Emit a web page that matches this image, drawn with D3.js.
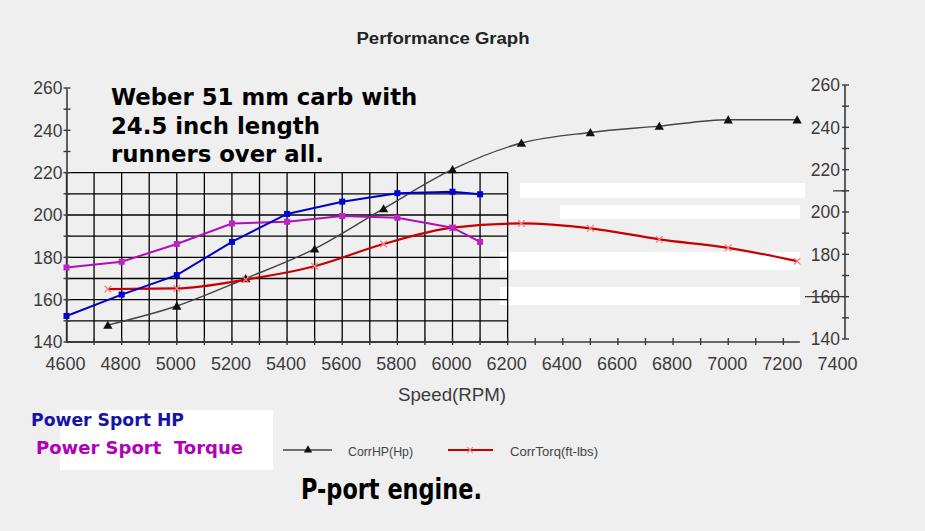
<!DOCTYPE html>
<html><head><meta charset="utf-8">
<script src="https://cdn.jsdelivr.net/npm/d3@7"></script>
<style>
html,body{margin:0;padding:0;background:#efefef;}
svg{display:block;}
</style></head>
<body>
<svg id="chart" width="925" height="531"></svg>
<script>
// ---- data ----
const rpmDyno = [4750, 5000, 5250, 5500, 5750, 6000, 6250, 6500, 6750, 7000, 7250];
const corrHP = [148, 157, 170, 184, 203, 221.5, 234, 239, 242, 245, 245];
const corrTorq = [165, 165.3, 169.5, 175.8, 186.3, 194, 196, 193.7, 188.5, 184.5, 178.2];
const rpmPS = [4600, 4800, 5000, 5200, 5400, 5600, 5800, 6000, 6100];
const psHP = [152.3, 162.4, 171.6, 187.3, 200.5, 206.3, 210.3, 211, 209.8];
const psTorque = [175.2, 177.9, 186.3, 196, 196.8, 199.5, 198.7, 194, 187.3];
const xTicks = [4600, 4800, 5000, 5200, 5400, 5600, 5800, 6000, 6200, 6400, 6600, 6800, 7000, 7200, 7400];
const yTicks = [140, 160, 180, 200, 220, 240, 260];
const titleText = "Performance Graph";
const xTitle = "Speed(RPM)";
const noteLines = ["Weber 51 mm carb with", "24.5 inch length", "runners over all."];
const engineText = "P-port engine.";
const legendPS = ["Power Sport HP", "Power Sport  Torque"];
const legendDyno = ["CorrHP(Hp)", "CorrTorq(ft-lbs)"];

// ---- setup ----
const svg = d3.select("#chart");
const x = d3.scaleLinear().domain([4600, 7400]).range([66.5, 838.5]);
const y = d3.scaleLinear().domain([140, 260]).range([342, 88]);
const yR = d3.scaleLinear().domain([140, 260]).range([339, 85]);
const axisCol = "#3a3a3a";
const labelCol = "#3c3c3c";

svg.append("rect").attr("width", 925).attr("height", 531).attr("fill", "#efefef");

// erased white bands (scan artefacts)
const bands = [[520, 183, 285, 15], [560, 205, 240, 14], [500, 252, 300, 18], [500, 287, 300, 18], [60, 410, 213, 60]];
svg.append("g").selectAll("rect").data(bands).join("rect")
  .attr("x", d => d[0]).attr("y", d => d[1]).attr("width", d => d[2]).attr("height", d => d[3])
  .attr("fill", "#ffffff");

// title
svg.append("text").attr("x", 443).attr("y", 44).attr("text-anchor", "middle")
  .attr("font-family", "Liberation Sans, Arial, sans-serif").attr("font-weight", "bold")
  .attr("font-size", 16).attr("fill", "#222").attr("textLength", 173).attr("lengthAdjust", "spacingAndGlyphs")
  .text(titleText);

// ---- black grid overlay ----
const grid = svg.append("g").attr("stroke", "#000").attr("stroke-width", 1.3);
grid.selectAll("line.v").data(d3.range(4600, 6201, 100)).join("line")
  .attr("x1", d => x(d)).attr("x2", d => x(d)).attr("y1", y(220)).attr("y2", y(140));
grid.selectAll("line.h").data(d3.range(140, 221, 10)).join("line")
  .attr("x1", x(4600)).attr("x2", x(6200)).attr("y1", d => y(d)).attr("y2", d => y(d));

// ---- left axis ----
const gL = svg.append("g").attr("transform", `translate(${x(4600)},0)`);
gL.call(d3.axisLeft(y).tickValues(d3.range(140, 261, 10)).tickSize(0).tickFormat(""));
gL.selectAll("path,line").attr("stroke", axisCol).attr("stroke-width", 1.6);
gL.selectAll("line.mt").data(d3.range(140, 261, 10)).join("line")
  .attr("x1", -3).attr("x2", 4).attr("y1", d => y(d)).attr("y2", d => y(d))
  .attr("stroke", axisCol).attr("stroke-width", 1.4);
gL.selectAll("text.yl").data(yTicks).join("text")
  .attr("x", -4).attr("y", d => y(d)).attr("dy", "0.36em").attr("text-anchor", "end")
  .attr("font-family", "Liberation Sans, Arial, sans-serif").attr("font-size", 17.5).attr("fill", labelCol)
  .text(d => d);

// ---- right axis ----
const gR = svg.append("g").attr("transform", "translate(845,0)");
gR.append("line").attr("x1", 0).attr("x2", 0).attr("y1", yR(260)).attr("y2", yR(140))
  .attr("stroke", axisCol).attr("stroke-width", 1.6);
gR.selectAll("line.mt").data(d3.range(140, 261, 10)).join("line")
  .attr("x1", -3).attr("x2", 4).attr("y1", d => yR(d)).attr("y2", d => yR(d))
  .attr("stroke", axisCol).attr("stroke-width", 1.4);
gR.selectAll("text.yl").data(yTicks).join("text")
  .attr("x", -5).attr("y", d => yR(d)).attr("dy", "0.36em").attr("text-anchor", "end")
  .attr("font-family", "Liberation Sans, Arial, sans-serif").attr("font-size", 17.5).attr("fill", labelCol)
  .text(d => d);
// stray long ticks from the scan
gR.append("line").attr("x1", -40).attr("x2", 0).attr("y1", yR(160)).attr("y2", yR(160)).attr("stroke", axisCol).attr("stroke-width", 1.3);
gR.append("line").attr("x1", -12).attr("x2", 0).attr("y1", yR(210)).attr("y2", yR(210)).attr("stroke", axisCol).attr("stroke-width", 1.3);

// ---- bottom axis ----
const gB = svg.append("g").attr("transform", `translate(0,${y(140)})`);
gB.append("line").attr("x1", x(4600)).attr("x2", x(7260)).attr("y1", 0).attr("y2", 0)
  .attr("stroke", axisCol).attr("stroke-width", 1.6);
gB.selectAll("line.t").data(d3.range(4700, 7201, 100)).join("line")
  .attr("x1", d => x(d)).attr("x2", d => x(d)).attr("y1", -4).attr("y2", 3)
  .attr("stroke", axisCol).attr("stroke-width", 1.4);
gB.selectAll("text.xl").data(xTicks).join("text")
  .attr("x", d => x(d) - 1).attr("y", 28).attr("text-anchor", "middle")
  .attr("font-family", "Liberation Sans, Arial, sans-serif").attr("font-size", 18).attr("fill", labelCol)
  .text(d => d);

svg.append("text").attr("x", 452).attr("y", 401).attr("text-anchor", "middle")
  .attr("font-family", "Liberation Sans, Arial, sans-serif").attr("font-size", 18).attr("fill", labelCol)
  .attr("textLength", 108).attr("lengthAdjust", "spacingAndGlyphs")
  .text(xTitle);

// ---- dyno series ----
const hpData = rpmDyno.map((r, i) => [r, corrHP[i]]);
const tqData = rpmDyno.map((r, i) => [r, corrTorq[i]]);
const smooth = d3.line().x(d => x(d[0])).y(d => y(d[1])).curve(d3.curveMonotoneX);

svg.append("path").datum(hpData).attr("d", smooth).attr("fill", "none")
  .attr("stroke", "#444").attr("stroke-width", 1.4);
svg.append("g").selectAll("path").data(hpData).join("path")
  .attr("d", d3.symbol(d3.symbolTriangle, 38)())
  .attr("transform", d => `translate(${x(d[0])},${y(d[1]) + 1})`).attr("fill", "#111");

svg.append("path").datum(tqData).attr("d", smooth).attr("fill", "none")
  .attr("stroke", "#c80000").attr("stroke-width", 2.2);
svg.append("g").selectAll("path").data(tqData).join("path")
  .attr("d", d3.symbol(d3.symbolTimes, 30)())
  .attr("transform", d => `translate(${x(d[0])},${y(d[1])})`)
  .attr("fill", "none").attr("stroke", "#f08080").attr("stroke-width", 1.3);

// ---- power sport series ----
const straight = d3.line().x(d => x(d[0])).y(d => y(d[1]));
const psHPData = rpmPS.map((r, i) => [r, psHP[i]]);
const psTqData = rpmPS.map((r, i) => [r, psTorque[i]]);

svg.append("path").datum(psTqData).attr("d", straight).attr("fill", "none")
  .attr("stroke", "#b010b8").attr("stroke-width", 2);
svg.append("g").selectAll("rect").data(psTqData).join("rect")
  .attr("x", d => x(d[0]) - 3).attr("y", d => y(d[1]) - 3).attr("width", 6).attr("height", 6)
  .attr("fill", "#c020c8");

svg.append("path").datum(psHPData).attr("d", straight).attr("fill", "none")
  .attr("stroke", "#0000c8").attr("stroke-width", 2);
svg.append("g").selectAll("rect").data(psHPData).join("rect")
  .attr("x", d => x(d[0]) - 3).attr("y", d => y(d[1]) - 3).attr("width", 6).attr("height", 6)
  .attr("fill", "#0000d8");

// ---- annotation text ----
svg.append("g").selectAll("text").data(noteLines).join("text")
  .attr("x", 111).attr("y", (d, i) => 105 + i * 28.5)
  .attr("font-family", "DejaVu Sans, Verdana, sans-serif").attr("font-weight", "bold")
  .attr("font-size", 22.8).attr("fill", "#000")
  .text(d => d);

svg.append("text").attr("transform", "translate(301,499) scale(1,1.25)")
  .attr("font-family", "DejaVu Sans, Verdana, sans-serif").attr("font-weight", "bold")
  .attr("font-size", 22.4).attr("fill", "#000")
  .attr("textLength", 181).attr("lengthAdjust", "spacingAndGlyphs")
  .text(engineText);

// ---- power sport legend ----
svg.append("text").attr("x", 31).attr("y", 426)
  .attr("font-family", "DejaVu Sans, Verdana, sans-serif").attr("font-weight", "bold")
  .attr("font-size", 17.2).attr("fill", "#1414a8")
  .attr("textLength", 153).attr("lengthAdjust", "spacingAndGlyphs").text(legendPS[0]);
svg.append("text").attr("x", 36).attr("y", 454)
  .attr("font-family", "DejaVu Sans, Verdana, sans-serif").attr("font-weight", "bold")
  .attr("font-size", 17.6).attr("fill", "#b000b8").attr("xml:space", "preserve")
  .style("white-space", "pre")
  .attr("textLength", 207).attr("lengthAdjust", "spacingAndGlyphs").text(legendPS[1]);

// ---- dyno legend ----
const lg = svg.append("g");
lg.append("line").attr("x1", 283).attr("x2", 332).attr("y1", 450).attr("y2", 450).attr("stroke", "#444").attr("stroke-width", 1.4);
lg.append("path").attr("d", d3.symbol(d3.symbolTriangle, 30)()).attr("transform", "translate(308,450)").attr("fill", "#111");
lg.append("text").attr("x", 348).attr("y", 456)
  .attr("font-family", "Liberation Sans, Arial, sans-serif").attr("font-size", 12.5).attr("fill", "#444")
  .attr("textLength", 65).attr("lengthAdjust", "spacingAndGlyphs").text(legendDyno[0]);
lg.append("line").attr("x1", 448).attr("x2", 493).attr("y1", 450).attr("y2", 450).attr("stroke", "#c80000").attr("stroke-width", 2.2);
lg.append("path").attr("d", d3.symbol(d3.symbolTimes, 24)()).attr("transform", "translate(470,450)")
  .attr("fill", "none").attr("stroke", "#f08080").attr("stroke-width", 1.2);
lg.append("text").attr("x", 510).attr("y", 456)
  .attr("font-family", "Liberation Sans, Arial, sans-serif").attr("font-size", 12.5).attr("fill", "#444")
  .attr("textLength", 88).attr("lengthAdjust", "spacingAndGlyphs").text(legendDyno[1]);
</script>
</body></html>
